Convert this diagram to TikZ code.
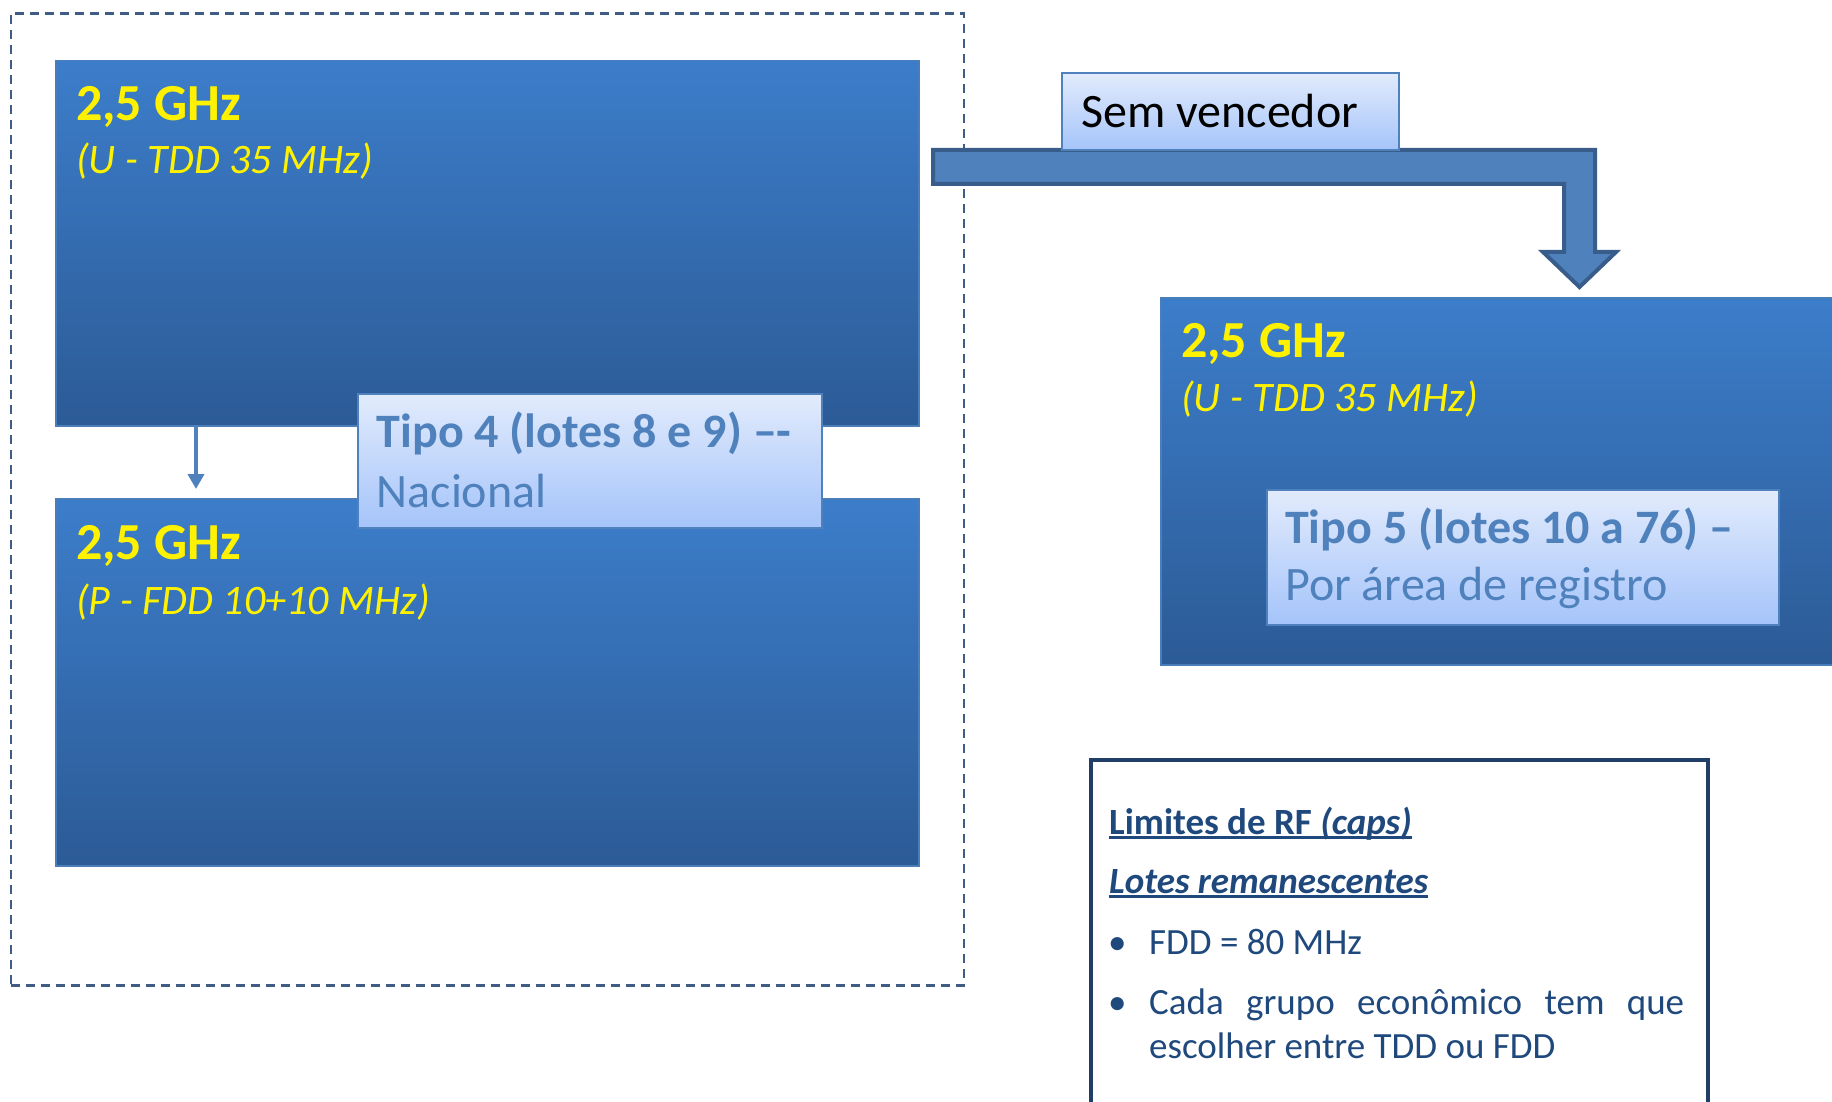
\documentclass[tikz,border=0pt]{standalone}
\usepackage{fontspec}
\setmainfont{Carlito}
\usetikzlibrary{arrows.meta}
\definecolor{boxtop}{RGB}{60,125,202}
\definecolor{boxbot}{RGB}{44,91,150}
\definecolor{boxedge}{RGB}{74,126,187}
\definecolor{lighttop}{RGB}{226,235,252}
\definecolor{lightbot}{RGB}{165,196,250}
\definecolor{accent}{RGB}{79,129,189}
\definecolor{accentdark}{RGB}{56,93,138}
\definecolor{navy}{RGB}{31,73,125}
\definecolor{navyedge}{RGB}{33,62,105}
\definecolor{dashc}{RGB}{62,92,132}
\newcommand\ulx[1]{\setbox0=\hbox{#1}\rlap{\rule[-4.5pt]{\wd0}{2.6pt}}\box0}
\tikzset{
  bigbox/.style={draw=boxedge, line width=1.5pt, top color=boxtop, bottom color=boxbot, anchor=north west, inner sep=0pt},
  lightbox/.style={draw=accent, line width=2pt, top color=lighttop, bottom color=lightbot, anchor=north west, inner sep=0pt},
  freq/.style={anchor=base west, inner sep=0pt, text=yellow, font=\fontsize{52}{62}\selectfont\bfseries},
  mode/.style={anchor=base west, inner sep=0pt, text=yellow, font=\fontsize{42}{50}\selectfont\itshape},
  tipotxt/.style={anchor=base west, inner sep=0pt, text=accent, font=\fontsize{48}{58}\selectfont},
  capstxt/.style={anchor=base west, inner sep=0pt, text=navy, font=\fontsize{37}{44}\selectfont},
}
\begin{document}
\begin{tikzpicture}[x=1pt,y=-1pt]
\useasboundingbox (0,0) rectangle (1832,1102);
\clip (0,0) rectangle (1832,1102);
% dashed frame
\node[draw=dashc, line width=2.6pt, dash pattern=on 9pt off 6pt, anchor=north west, inner sep=0pt,
      minimum width=953pt, minimum height=972pt] (frame) at (9.5,12) {};
% left boxes
\node[bigbox, minimum width=863pt, minimum height=365pt] (b1) at (55,60) {};
\node[bigbox, minimum width=863pt, minimum height=367pt] (b2) at (55,498) {};
\node[freq] (b1f) at (76,121) {2,5 GHz};
\node[mode] (b1m) at (76,174) {(U - TDD 35 MHz)};
\node[freq] (b2f) at (76,559) {2,5 GHz};
\node[mode] (b2m) at (76,614) {(P - FDD 10+10 MHz)};
% small arrow
\coordinate (a1) at (196,425);
\coordinate (a2) at (196,489);
\draw[accent, line width=4pt, -{Triangle[width=16pt,length=15pt]}] (a1) -- (a2);
% Tipo 4
\node[lightbox, minimum width=464pt, minimum height=134pt] (t4) at (356.5,393) {};
\node[tipotxt, font=\fontsize{48}{58}\selectfont\bfseries] (t4a) at (376.5,447) {Tipo 4 (lotes 8 e 9) –-};
\node[tipotxt] (t4b) at (376.5,507) {Nacional};
% bent arrow
\draw[fill=accent, draw=accentdark, line width=4pt, line join=miter]
  (933,150) -- (1595,150) -- (1595,252) -- (1616,252) -- (1579.5,287) -- (1543,252)
  -- (1564,252) -- (1564,184) -- (933,184) -- cycle;
% Sem vencedor
\node[lightbox, minimum width=337pt, minimum height=77pt] (sv) at (1060.5,72) {};
\node[anchor=base west, inner sep=0pt, text=black, font=\fontsize{48}{58}\selectfont] (svt) at (1081,128) {Sem vencedor};
% right box
\node[bigbox, minimum width=690pt, minimum height=367pt] (b3) at (1160,297) {};
\node[freq] (b3f) at (1181,357) {2,5 GHz};
\node[mode] (b3m) at (1181,411) {(U - TDD 35 MHz)};
\node[lightbox, minimum width=512pt, minimum height=135pt] (t5) at (1266,489) {};
\node[tipotxt, font=\fontsize{48}{58}\selectfont\bfseries] (t5a) at (1285,543) {Tipo 5 (lotes 10 a 76) –};
\node[tipotxt] (t5b) at (1285,600) {Por área de registro};
% caps box
\node[draw=navyedge, line width=4pt, fill=white, anchor=north west, inner sep=0pt,
      minimum width=617pt, minimum height=420pt] (caps) at (1089,758) {};
\node[capstxt, font=\fontsize{37}{44}\selectfont\bfseries] (c1) at (1109,834) {\ulx{Limites de RF \textit{(caps)}}};
\node[capstxt, font=\fontsize{37}{44}\selectfont\bfseries\itshape] (c2) at (1109,893) {\ulx{Lotes remanescentes}};
\node[capstxt] (bu1) at (1108,954) {•};
\node[capstxt] (c3) at (1149,954) {FDD = 80 MHz};
\node[capstxt] (bu2) at (1108,1014) {•};
\node[capstxt] (c4) at (1149,1014) {\makebox[535pt][s]{Cada grupo econômico tem que}};
\node[capstxt] (c5) at (1149,1058) {escolher entre TDD ou FDD};
\end{tikzpicture}
\end{document}
